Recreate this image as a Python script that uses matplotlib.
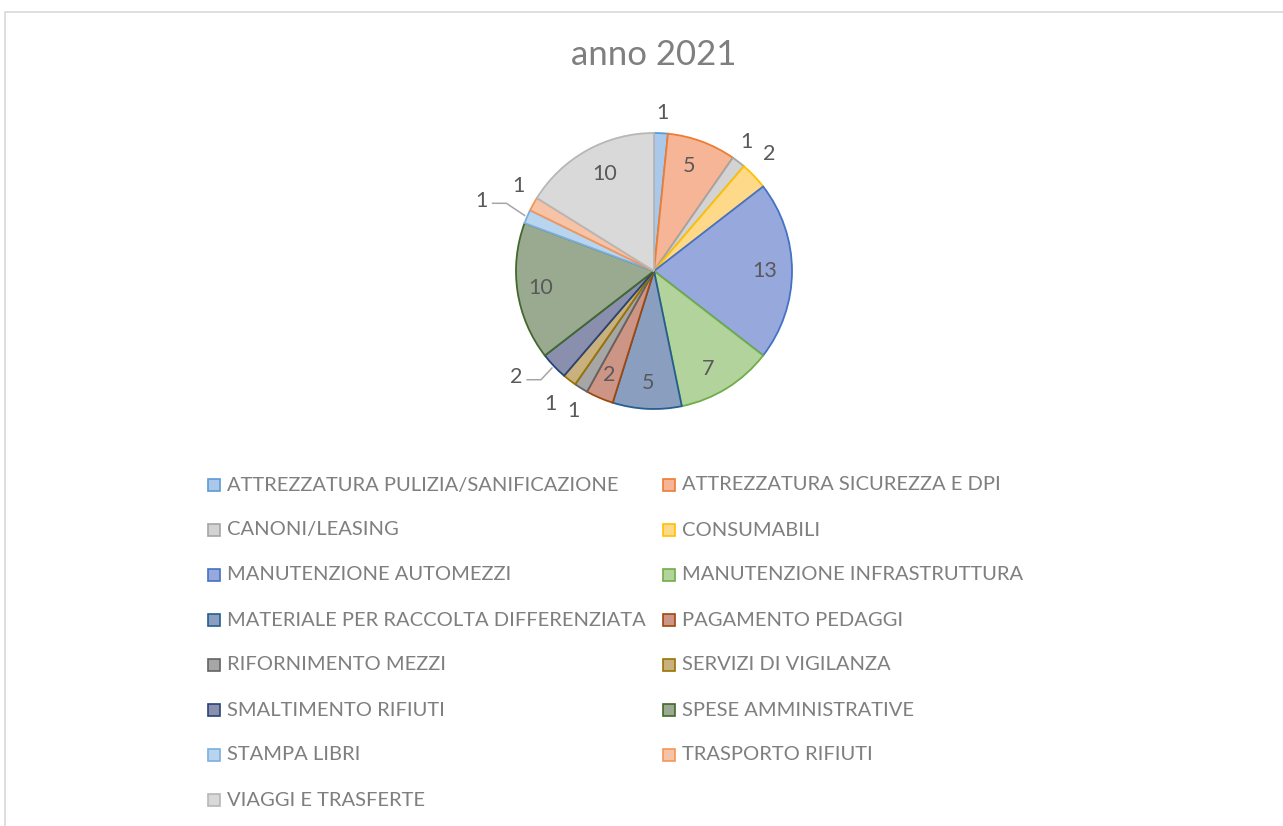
import matplotlib
matplotlib.use("Agg")
import matplotlib.pyplot as plt
from matplotlib.patches import Rectangle
import numpy as np

categories = [
    "ATTREZZATURA PULIZIA/SANIFICAZIONE", "ATTREZZATURA SICUREZZA E DPI",
    "CANONI/LEASING", "CONSUMABILI", "MANUTENZIONE AUTOMEZZI",
    "MANUTENZIONE INFRASTRUTTURA", "MATERIALE PER RACCOLTA DIFFERENZIATA",
    "PAGAMENTO PEDAGGI", "RIFORNIMENTO MEZZI", "SERVIZI DI VIGILANZA",
    "SMALTIMENTO RIFIUTI", "SPESE AMMINISTRATIVE", "STAMPA LIBRI",
    "TRASPORTO RIFIUTI", "VIAGGI E TRASFERTE",
]
values = [1, 5, 1, 2, 13, 7, 5, 2, 1, 1, 2, 10, 1, 1, 10]
title = "anno 2021"

edge_colors = ["#5B9BD5", "#ED7D31", "#A5A5A5", "#FFC000", "#4472C4", "#70AD47",
               "#255E91", "#9E480E", "#636363", "#997300", "#264478", "#43682B",
               "#7CAFDD", "#F1975A", "#B7B7B7"]
fill_colors = ["#A9C8EA", "#F5B596", "#D3D3D3", "#FFD98A", "#97A9DC", "#B2D39B",
               "#8A9FBF", "#CC9586", "#A6A6A6", "#C9B07F", "#8A8FAE", "#9AAA90",
               "#B9D4EF", "#F7C3A7", "#D9D9D9"]
# label placement style: radius factor and angle offset (deg)
lab_r = [1.15, 0.80, 1.15, 1.19, 0.80, 0.81, 0.81, 0.82, 1.17, 1.22, 1.26, 0.83, 1.35, 1.16, 0.79]
lab_da = [0, 2, 2, 2, 0, -3, 0, 0, 2, 0, -6, 0, 1, -3, -2]
leader = [False]*10 + [True, False, True, False, False]

W, H = 1283, 826
fig = plt.figure(figsize=(W/100, H/100), dpi=100)
fig.patch.set_facecolor("white")
FONT = "Lato"

# chart border
fig.patches.append(Rectangle((4.5/W, -0.1), 1.2, (H-11.5)/H + 0.1, transform=fig.transFigure,
                             fill=False, edgecolor="#D9D9D9", linewidth=1.2))

cx, cy, R = 654, 271, 138
half = 1.5*R
ax = fig.add_axes([(cx-half)/W, (H-cy-half)/H, 2*half/W, 2*half/H])

wedges, _ = ax.pie(values, colors=fill_colors, startangle=90, counterclock=False,
                   radius=1, wedgeprops=dict(linewidth=1.3))
ax.set_xlim(-1.5, 1.5); ax.set_ylim(-1.5, 1.5)
ax.set_aspect("equal"); ax.axis("off")
for w, ec in zip(wedges, edge_colors):
    w.set_edgecolor(ec)

for i, (w, v) in enumerate(zip(wedges, values)):
    mid = np.deg2rad((w.theta1 + w.theta2)/2 + lab_da[i])
    x, y = lab_r[i]*np.cos(mid), lab_r[i]*np.sin(mid)
    ax.text(x, y, str(v), ha="center", va="center", fontsize=15.5, color="#595959",
            family=FONT)
    if leader[i]:
        m0 = np.deg2rad((w.theta1 + w.theta2)/2)
        ex, ey = 1.02*np.cos(m0), 1.02*np.sin(m0)
        ax.plot([x + 0.08, x + 0.18, ex], [y - 0.02, y - 0.02, ey], color="#A6A6A6", lw=1.1)

fig.text(cx/W, 1 - 55/H, title, ha="center", va="center", fontsize=25, color="#7F7F7F",
         family=FONT)

# legend
col_x = [208, 663]
row_y0, row_dy = 485, 45
for i, (cat, fc, ec) in enumerate(zip(categories, fill_colors, edge_colors)):
    c, r = i % 2, i // 2
    x0 = col_x[c]; y0 = row_y0 + r*row_dy
    fig.patches.append(Rectangle((x0/W, (H-y0-6)/H), 12/W, 12/H, transform=fig.transFigure,
                                 facecolor=fc, edgecolor=ec, linewidth=1.2))
    fig.text((x0+19)/W, 1 - y0/H, cat, ha="left", va="center", fontsize=14.5,
             color="#7F7F7F", family=FONT)

fig.savefig("out.png", dpi=100)
